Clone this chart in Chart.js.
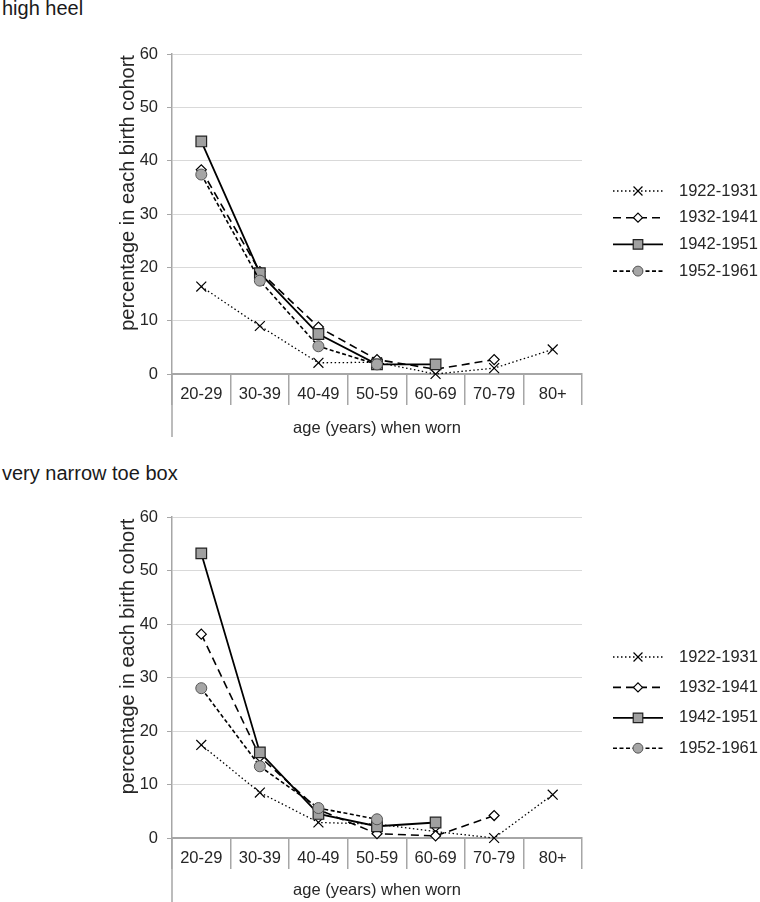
<!DOCTYPE html>
<html><head><meta charset="utf-8">
<script src="https://cdn.jsdelivr.net/npm/chart.js@4.4.1/dist/chart.umd.min.js"></script>
<style>
body{margin:0;background:#fff;width:760px;height:902px;position:relative;overflow:hidden;font-family:"Liberation Sans",Arial,sans-serif;}
.t{position:absolute;left:2px;font-size:20px;line-height:24px;color:#1a1a1a;white-space:nowrap;}
.c{position:absolute;left:0;width:760px;}
canvas{display:block;}
</style></head><body>
<div class="t" style="top:-4px">high heel</div>
<div class="c" style="top:0;height:450px"><canvas id="c1" width="760" height="450"></canvas></div>
<div class="t" style="top:461px">very narrow toe box</div>
<div class="c" style="top:451px;height:451px"><canvas id="c2" width="760" height="451"></canvas></div>
<script>
// ---- data ----
const categories = ['20-29','30-39','40-49','50-59','60-69','70-79','80+'];
const cohorts = ['1922-1931','1932-1941','1942-1951','1952-1961'];
const yTicks = [0,10,20,30,40,50,60];
const yAxisTitle = 'percentage in each birth cohort';
const xAxisTitle = 'age (years) when worn';
const highHeel1922 = [16.4, 9.0, 2.1, 2.2, 0, 1.1, 4.6];
const highHeel1932 = [38.3, 19.2, 8.8, 2.7, 0.9, 2.7, null];
const highHeel1942 = [43.6, 18.9, 7.5, 1.8, 1.8, null, null];
const highHeel1952 = [37.4, 17.5, 5.2, 1.8, null, null, null];
const toeBox1922 = [17.4, 8.5, 2.9, 2.6, 1.2, 0, 8.1];
const toeBox1932 = [38.1, 15.2, 5.3, 0.8, 0.4, 4.2, null];
const toeBox1942 = [53.2, 16.0, 4.5, 2.2, 2.9, null, null];
const toeBox1952 = [28.0, 13.4, 5.6, 3.5, null, null, null];

const FONT = '"Liberation Sans", Arial, sans-serif';
const TXT = '#262626';
const AXIS = '#a6a6a6';

const styles = [
  {borderColor:'#000', borderWidth:1.3, borderDash:[1.5,2.5], pointStyle:'crossRot', pointRadius:7, pointBackgroundColor:'rgba(0,0,0,0)', pointBorderColor:'#000', pointBorderWidth:1.2, order:4},
  {borderColor:'#000', borderWidth:1.6, borderDash:[8,5], pointStyle:'rectRot', pointRadius:5, pointBackgroundColor:'#fff', pointBorderColor:'#000', pointBorderWidth:1.2, order:3},
  {borderColor:'#000', borderWidth:1.8, borderDash:[], pointStyle:'rect', pointRadius:7.5, pointBackgroundColor:'#a0a0a0', pointBorderColor:'#222', pointBorderWidth:1.2, order:2},
  {borderColor:'#000', borderWidth:1.6, borderDash:[4,2.5], pointStyle:'circle', pointRadius:5.5, pointBackgroundColor:'#a6a6a6', pointBorderColor:'#555', pointBorderWidth:1, order:1}
];

function makeDatasets(series){
  return series.map((d,i)=>Object.assign({label:cohorts[i], data:d, fill:false, tension:0, clip:false, spanGaps:false, pointHoverRadius:styles[i].pointRadius, backgroundColor:'rgba(0,0,0,0)'}, styles[i]));
}

const extras = {
  id:'extras',
  afterDraw(chart, args, o){
    const ctx = chart.ctx, ca = chart.chartArea;
    ctx.save();
    ctx.strokeStyle = AXIS; ctx.lineWidth = 1.5; ctx.setLineDash([]);
    ctx.beginPath(); ctx.moveTo(ca.left, ca.bottom); ctx.lineTo(ca.left, o.leftLineEnd); ctx.stroke();
    // y axis title
    ctx.save();
    ctx.translate(o.yTitleX, (ca.top + ca.bottom)/2 + o.yTitleShift);
    ctx.rotate(-Math.PI/2);
    ctx.fillStyle = TXT; ctx.font = '20px ' + FONT; ctx.textAlign = 'center'; ctx.textBaseline = 'middle';
    ctx.fillText(yAxisTitle, 0, 0);
    ctx.restore();
    // legend
    chart.data.datasets.forEach((ds,i)=>{
      const y = o.legendTop + i*o.legendGap;
      ctx.setLineDash(ds.borderDash||[]); ctx.lineWidth = ds.borderWidth; ctx.strokeStyle = ds.borderColor;
      ctx.beginPath(); ctx.moveTo(o.legendX, y); ctx.lineTo(o.legendX + o.legendLen, y); ctx.stroke();
      ctx.setLineDash([]);
      ctx.fillStyle = ds.pointBackgroundColor; ctx.strokeStyle = ds.pointBorderColor; ctx.lineWidth = ds.pointBorderWidth;
      Chart.helpers.drawPoint(ctx, {pointStyle:ds.pointStyle, radius:ds.pointRadius*0.9, borderWidth:ds.pointBorderWidth, rotation:0}, o.legendX + o.legendLen/2, y);
      ctx.fillStyle = TXT; ctx.font = '16.5px ' + FONT; ctx.textBaseline = 'middle'; ctx.textAlign = 'left';
      ctx.fillText(ds.label, o.textX, y);
    });
    ctx.restore();
  }
};

function makeChart(id, series, padTop, xHeight, xTitlePad, leftLineEnd, legendTop, legendGap){
  return new Chart(document.getElementById(id), {
    type:'line',
    data:{labels:categories, datasets:makeDatasets(series)},
    plugins:[extras],
    options:{
      responsive:false, animation:false, events:[],
      layout:{padding:{left:111, right:178, top:padTop, bottom:0}},
      plugins:{legend:{display:false}, tooltip:{enabled:false}, title:{display:false},
        extras:{leftLineEnd, legendTop, legendGap, legendX:613, legendLen:50, textX:679, yTitleX:128, yTitleShift:-21}},
      scales:{
        x:{type:'category', offset:true,
          grid:{offset:true, drawOnChartArea:false, drawTicks:true, tickLength:31, color:AXIS, lineWidth:1.5},
          border:{color:AXIS, width:2},
          ticks:{padding:-20, color:TXT, font:{family:FONT, size:16.5}, maxRotation:0, autoSkip:false},
          title:{display:true, text:xAxisTitle, color:TXT, font:{family:FONT, size:16.5}, padding:{top:0, bottom:xTitlePad}},
          afterFit(s){ s.height = xHeight; }
        },
        y:{min:0, max:60,
          afterBuildTicks(s){ s.ticks = yTicks.map(v=>({value:v})); },
          grid:{color:'#d9d9d9', lineWidth:1, tickColor:AXIS, tickLength:5, drawTicks:true},
          border:{color:AXIS, width:1.5},
          ticks:{padding:9, color:TXT, font:{family:FONT, size:16.5}},
          title:{display:false},
          afterFit(s){ s.width = 61; }
        }
      }
    }
  });
}

makeChart('c1', [highHeel1922, highHeel1932, highHeel1942, highHeel1952], 54, 76, 12, 437, 191, 26.7);
makeChart('c2', [toeBox1922, toeBox1932, toeBox1942, toeBox1952], 66, 64, 2, 451, 206, 30.4);
</script>
</body></html>
